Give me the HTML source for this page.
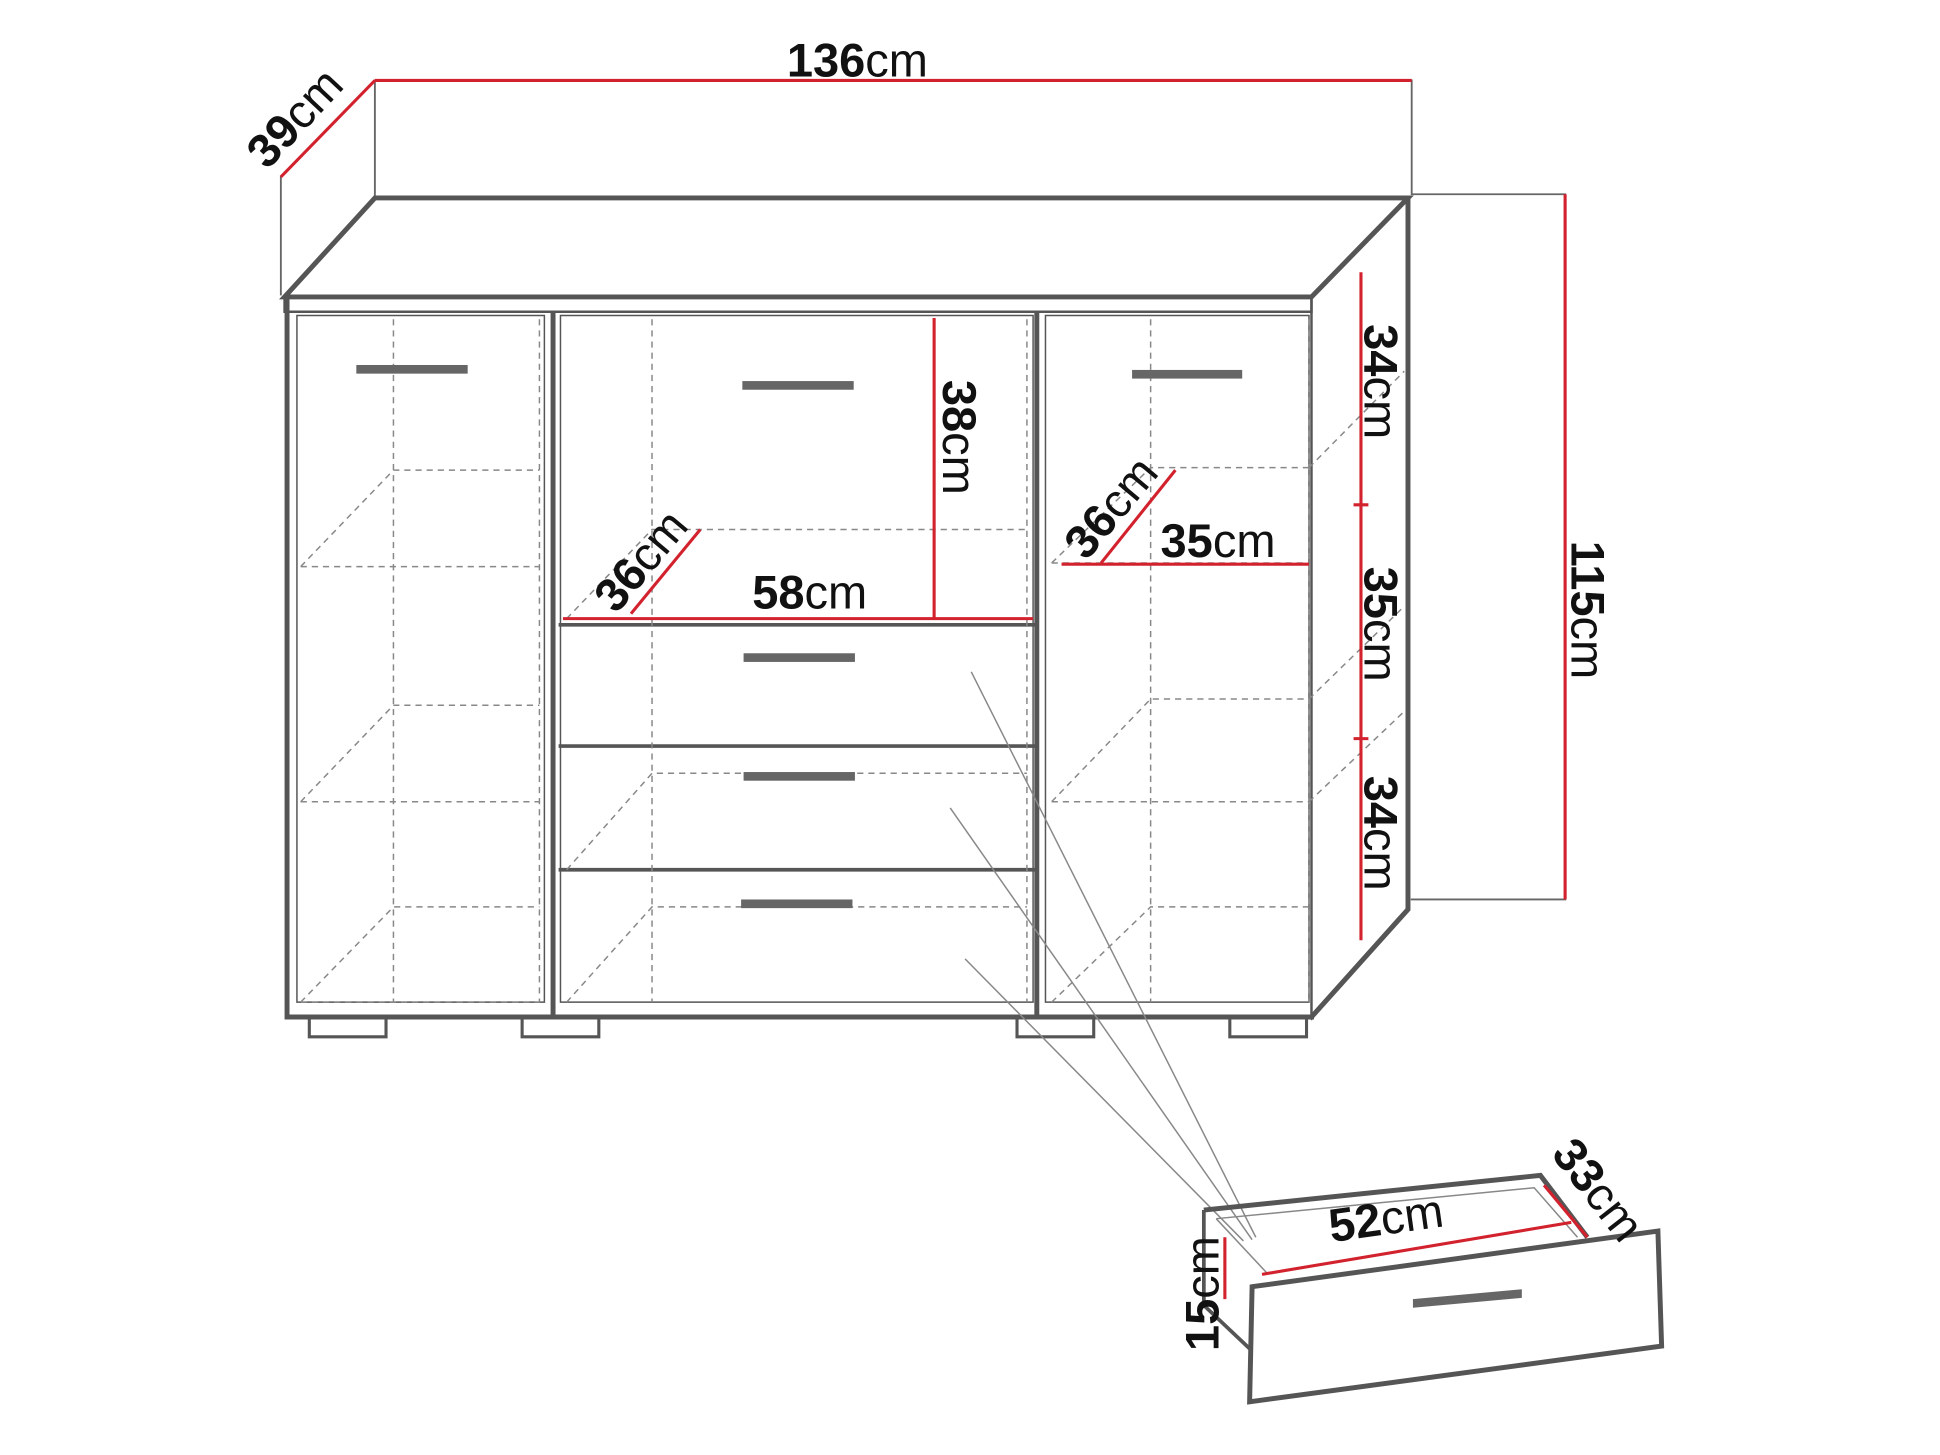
<!DOCTYPE html>
<html><head><meta charset="utf-8"><style>html,body{margin:0;padding:0;background:#fff}svg{display:block}</style></head>
<body>
<svg width="1940" height="1455" viewBox="0 0 1568 1176" preserveAspectRatio="none" xmlns="http://www.w3.org/2000/svg" font-family="Liberation Sans, sans-serif">
<g fill="none" stroke="#555" stroke-linecap="square">
<path d="M303 65V160M1141 65V157M227 143V238M1141 157H1265M1141 727H1265" stroke="#666" stroke-width="1.5"/>
<path d="M230 240L303 160H1138L1060 240Z" stroke="#555" stroke-width="4" fill="#fff"/>
<path d="M230 240V252H1060V240" stroke-width="2"/>
<path d="M1138 160V735L1060 822" stroke-width="4"/>
<path d="M1060 240V822" stroke-width="2"/>
<path d="M232 240V822H1060" stroke-width="4"/>
<path d="M447 255V822M838 255V822" stroke-width="4"/>
<path d="M240 255H440V810H240Z M453 255H835V810H453Z M845 255H1058V810H845Z" stroke-width="1.2"/>
<path d="M453 505H835M453 603H835M453 703H835" stroke-width="3"/>
<path d="M250 824V838H312V824M422 824V838H484V824M822 824V838H884V824M994 824V838H1056V824" stroke-width="2.5"/>
</g>
<g fill="none" stroke="#888" stroke-width="1.2" stroke-dasharray="5 4">
<path d="M318 258V810M436 258V810M243 458L318 380H436M243 648L318 570H436M243 810L318 733H436M243 458H436M243 648H436M243 810H436"/>
<path d="M527 258V810M830 258V810M458 500L527 428H830M458 810L527 733H830M458 703L527 625H830"/>
<path d="M930 258V810M1058 258V810M850 455L930 378H1058M850 648L930 565H1058M850 810L930 733H1058M850 455H1058M850 648H1058M1058 378L1135 300M1058 565L1135 490M1058 648L1135 575"/>
</g>
<g fill="#666">
<rect x="288" y="295" width="90" height="7"/>
<rect x="600" y="308" width="90" height="7"/>
<rect x="915" y="299" width="89" height="7"/>
<rect x="601" y="528" width="90" height="7"/>
<rect x="601" y="624" width="90" height="7"/>
<rect x="599" y="727" width="90" height="7"/>
</g>
<g stroke="#888" stroke-width="1.2">
<line x1="785" y1="543" x2="1015" y2="1000"/>
<line x1="768" y1="653" x2="1012" y2="1002"/>
<line x1="780" y1="775" x2="1005" y2="1003"/>
</g>
<g fill="none" stroke="#555">
<path d="M973 978L1245 950L1283 1000" stroke-width="4"/>
<path d="M973 978V1055L1010 1090" stroke-width="3"/>
<path d="M983 985L1240 960L1275 1000M983 985L1025 1030" stroke-width="1.2" stroke="#888"/>
<path d="M1012 1040L1340 995L1343 1088L1010 1133Z" stroke-width="4" fill="#fff"/>
</g>
<path d="M1142 1050L1230 1042L1230 1049L1142 1057Z" fill="#666"/>
<g stroke="#d2222e" stroke-width="2.5" fill="none">
<path d="M303 65H1141M227 143L303 65M1265 157V727"/>
<path d="M1100 220V760M1094 408H1106M1094 597H1106"/>
<path d="M755 257V500M455 500H835M510 496L566 428"/>
<path d="M890 455L950 380M858 456H1058"/>
<path d="M1020 1030L1270 988M1248 958L1283 1000M990 1000V1050"/>
</g>
<g fill="#111" font-size="38">
<text x="636" y="62"><tspan font-weight="bold">136</tspan>cm</text>
<text transform="translate(216,138) rotate(-47)"><tspan font-weight="bold">39</tspan>cm</text>
<text transform="translate(1270,437) rotate(90)"><tspan font-weight="bold">115</tspan>cm</text>
<text transform="translate(1103,262) rotate(90)"><tspan font-weight="bold">34</tspan>cm</text>
<text transform="translate(1103,458) rotate(90)"><tspan font-weight="bold">35</tspan>cm</text>
<text transform="translate(1103,627) rotate(90)"><tspan font-weight="bold">34</tspan>cm</text>
<text transform="translate(762,307) rotate(90)"><tspan font-weight="bold">38</tspan>cm</text>
<text x="608" y="492"><tspan font-weight="bold">58</tspan>cm</text>
<text transform="translate(498,497) rotate(-50)"><tspan font-weight="bold">36</tspan>cm</text>
<text transform="translate(878,454) rotate(-50)"><tspan font-weight="bold">36</tspan>cm</text>
<text x="938" y="450"><tspan font-weight="bold">35</tspan>cm</text>
<text transform="translate(1076,1004) rotate(-8)"><tspan font-weight="bold">52</tspan>cm</text>
<text transform="translate(1253,933) rotate(52)"><tspan font-weight="bold">33</tspan>cm</text>
<text transform="translate(985,1092) rotate(-90)"><tspan font-weight="bold">15</tspan>cm</text>
</g>
</svg>
</body></html>
